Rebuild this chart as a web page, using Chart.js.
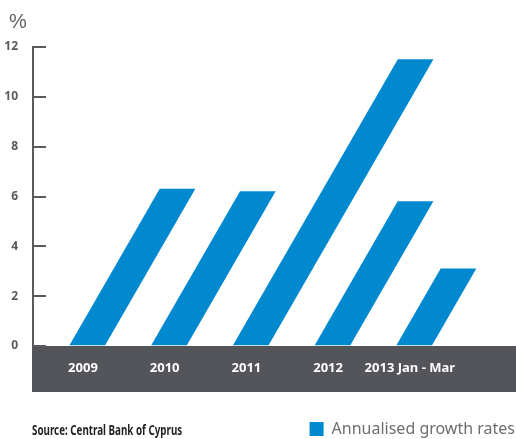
<!DOCTYPE html>
<html>
<head>
<meta charset="utf-8">
<script src="https://cdn.jsdelivr.net/npm/chart.js@4.4.0/dist/chart.umd.min.js"></script>
<style>
  html, body { margin: 0; padding: 0; background: #ffffff; }
  #wrap { width: 516px; height: 439px; position: relative; }
</style>
</head>
<body>
<div id="wrap"><canvas id="chart"></canvas></div>
<script>
// Annualised growth rates by period (%)
const categories = ['2009', '2010', '2011', '2012', '2013 Jan - Mar'];
const growthRates = [6.3, 6.2, 11.5, 5.8, 3.1];
const yTickValues = [0, 2, 4, 6, 8, 10, 12];
const seriesLabel = 'Annualised growth rates';
const unitLabel = '%';
const sourceNote = 'Source: Central Bank of Cyprus';

const BLUE = '#0089cf';
const AXIS_GREY = '#5a5b5f';
const BAND_GREY = '#53555b';
const FAMILY = "'Noto Sans', 'Open Sans', sans-serif";
const SHEAR = 0.576;     // horizontal lean of the bars per pixel of height
const NOTE_SQUEEZE = 0.7; // horizontal squeeze for the source line

// Leans every bar to the right, pivoting on the zero line
const slantedBars = {
  id: 'slantedBars',
  beforeDatasetDraw(chart) {
    const ctx = chart.ctx;
    const base = chart.scales.y.getPixelForValue(0);
    ctx.save();
    ctx.transform(1, 0, -SHEAR, 1, SHEAR * base, 0);
  },
  afterDatasetDraw(chart) {
    chart.ctx.restore();
  }
};

// Dark strip behind the category labels
const axisBand = {
  id: 'axisBand',
  beforeDraw(chart) {
    const { ctx } = chart;
    const xs = chart.scales.x;
    ctx.save();
    ctx.fillStyle = BAND_GREY;
    ctx.fillRect(xs.left - 1, xs.top, xs.right - xs.left + 1, xs.bottom - xs.top);
    ctx.restore();
  }
};

// Unit caption above the value axis and the source line
const notes = {
  id: 'notes',
  afterDraw(chart) {
    const { ctx } = chart;
    ctx.save();
    ctx.textBaseline = 'alphabetic';
    ctx.textAlign = 'left';
    ctx.fillStyle = '#5f6063';
    ctx.font = "20px 'Liberation Sans', sans-serif";
    ctx.fillText(unitLabel, 9, 28);
    ctx.restore();

    ctx.save();
    ctx.translate(32, 435);
    ctx.scale(NOTE_SQUEEZE, 1);
    ctx.textBaseline = 'alphabetic';
    ctx.textAlign = 'left';
    ctx.fillStyle = '#231f20';
    ctx.font = "bold 14px " + FAMILY;
    ctx.fillText(sourceNote, 0, 0);
    ctx.restore();
  }
};

new Chart(document.getElementById('chart'), {
  type: 'bar',
  data: {
    datasets: [{
      label: seriesLabel,
      data: growthRates.map((v, i) => ({ x: i, y: v })),
      backgroundColor: BLUE,
      borderWidth: 0,
      barThickness: 35,
      clip: false
    }]
  },
  options: {
    responsive: true,
    maintainAspectRatio: false,
    animation: false,
    events: [],
    layout: { padding: { top: 47, right: 0, left: 0, bottom: -8 } },
    scales: {
      x: {
        type: 'linear',
        position: 'bottom',
        min: -0.66,
        max: 5.25,
        offset: false,
        grid: { display: false, drawTicks: false },
        border: { display: false },
        afterBuildTicks(scale) {
          scale.ticks = categories.map((_, i) => ({ value: i }));
        },
        afterFit(scale) { scale.height = 46; },
        ticks: {
          autoSkip: false,
          maxRotation: 0,
          padding: 14,
          labelOffset: -4,
          color: '#ffffff',
          font: { family: FAMILY, size: 13, weight: 'bold' },
          callback: (v) => categories[v] ?? ''
        }
      },
      y: {
        min: yTickValues[0],
        max: yTickValues[yTickValues.length - 1],
        afterBuildTicks(scale) {
          scale.ticks = yTickValues.map(v => ({ value: v }));
        },
        afterFit(scale) { scale.width = 33; },
        grid: {
          drawOnChartArea: false,
          drawTicks: true,
          tickLength: -13,
          color: AXIS_GREY,
          lineWidth: 2
        },
        border: { display: true, color: AXIS_GREY, width: 2 },
        ticks: {
          padding: 28,
          color: '#58595b',
          font: { family: FAMILY, size: 12, weight: 'bold' }
        }
      }
    },
    plugins: {
      tooltip: { enabled: false },
      legend: {
        display: true,
        position: 'bottom',
        align: 'end',
        title: {
          display: true,
          text: '',
          font: { size: 10, lineHeight: 1 },
          padding: { top: 18, bottom: 0 }
        },
        labels: {
          boxWidth: 14,
          boxHeight: 14,
          padding: 1,
          color: '#6d6e71',
          font: { family: FAMILY, size: 16 }
        }
      }
    }
  },
  plugins: [axisBand, slantedBars, notes]
});
</script>
</body>
</html>
